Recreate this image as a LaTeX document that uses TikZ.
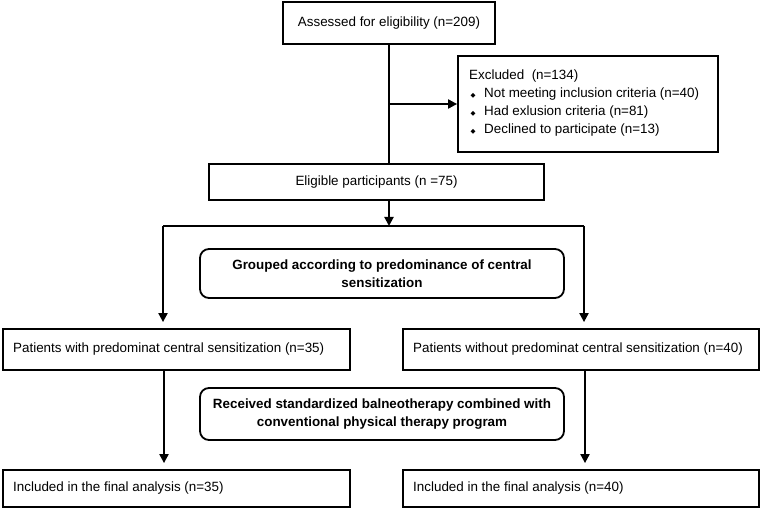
\documentclass[tikz,border=0pt]{standalone}
\usepackage{fontspec}
\setmainfont{Liberation Sans}
\newfontfamily\symfont{DejaVu Sans}
\usetikzlibrary{arrows.meta}
\newcommand{\bul}{{\symfont\fontsize{6.5}{6.5}\selectfont ◆}}
\tikzset{
  box/.style={draw=black, line width=1.8pt, fill=white, inner sep=0pt, font=\fontsize{13.4}{18.5}\selectfont},
  rbox/.style={box, rounded corners=9pt, align=center, font=\fontsize{13.4}{18.5}\selectfont\bfseries},
  line/.style={line width=2pt},
  arr/.style={line width=2pt, -{Triangle[width=9pt,length=9pt]}},
  txt/.style={inner sep=0pt, font=\fontsize{13.4}{17.7}\selectfont}
}
\begin{document}
\begin{tikzpicture}[x=1pt,y=-1pt]
\useasboundingbox[fill=white] (0,0) rectangle (762,510);
% boxes
\node[box, minimum width=212, minimum height=42] (assess) at (389,23) {Assessed for eligibility (n=209)};
\node[box, minimum width=260, minimum height=96] (excl) at (588,104) {};
\node[txt, anchor=west, align=left] (excltext) at (469,103) {Excluded\ \ (n=134)\\
\makebox[15pt][l]{\hspace{1.5pt}\bul}Not meeting inclusion criteria (n=40)\\
\makebox[15pt][l]{\hspace{1.5pt}\bul}Had exlusion criteria (n=81)\\
\makebox[15pt][l]{\hspace{1.5pt}\bul}Declined to participate (n=13)};
\node[box, minimum width=335, minimum height=36] (elig) at (376.5,182) {Eligible participants (n =75)};
\node[rbox, minimum width=364, minimum height=49] (group) at (382,273.5) {Grouped according to predominance of central\\sensitization};
\node[box, minimum width=347, minimum height=41] (pl) at (176.5,349.5) {};
\node[txt, anchor=west] (plt) at (13,349.5) {Patients with predominat central sensitization (n=35)};
\node[box, minimum width=356, minimum height=41] (pr) at (581,349.5) {};
\node[txt, anchor=west] (prt) at (413,349.5) {Patients without predominat central sensitization (n=40)};
\node[rbox, minimum width=364, minimum height=52] (recv) at (382,414) {Received standardized balneotherapy combined with\\conventional physical therapy program};
\node[box, minimum width=347, minimum height=37] (fl) at (176.5,488.5) {};
\node[txt, anchor=west] (flt) at (13,488.5) {Included in the final analysis (n=35)};
\node[box, minimum width=356, minimum height=37] (fr) at (581,488.5) {};
\node[txt, anchor=west] (frt) at (413,488.5) {Included in the final analysis (n=40)};
% coordinates
\coordinate (bx) at (389,104);
\coordinate (split) at (389,226);
\coordinate (sl) at (163,226);
\coordinate (sr) at (584,226);
% connectors
\draw[line] (assess.south) -- (elig.north -| assess.south);
\draw[arr] (bx) -- (excl.west);
\draw[arr] (elig.south -| split) -- (split);
\draw[line] (sl) -- (sr);
\draw[arr, shorten >=6pt] (sl) -- (sl |- pl.north);
\draw[arr, shorten >=6pt] (sr) -- (sr |- pr.north);
\draw[arr, shorten >=6pt] (pl.south -| 164,0) -- (fl.north -| 164,0);
\draw[arr, shorten >=6pt] (pr.south -| 585,0) -- (fr.north -| 585,0);
\end{tikzpicture}
\end{document}
